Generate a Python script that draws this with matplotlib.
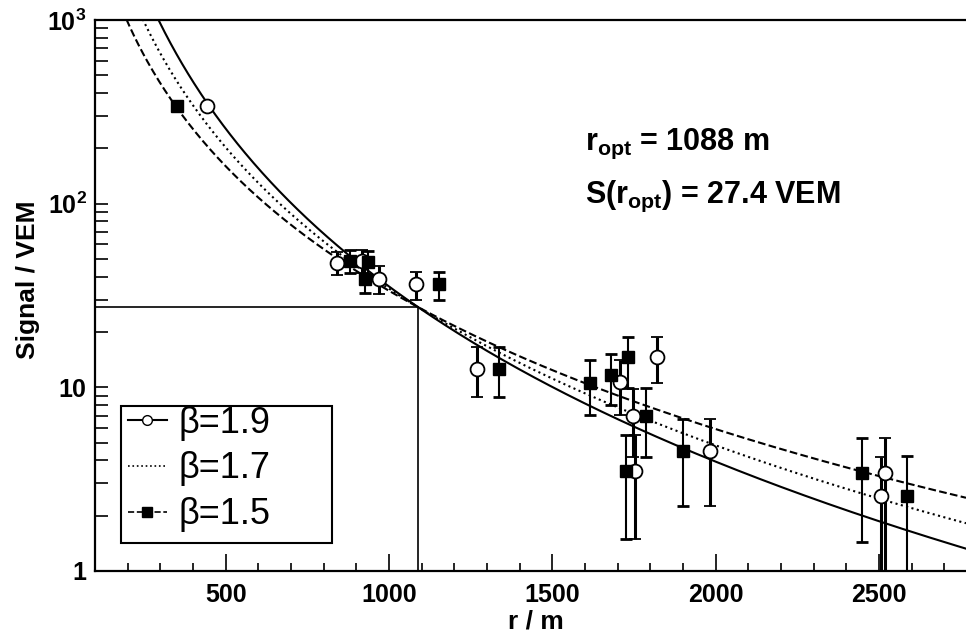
#!/usr/bin/env python3
# lateral distribution of the signal, fits with three beta values

import numpy as np
import matplotlib
matplotlib.use("Agg")
import matplotlib.pyplot as plt
from matplotlib.lines import Line2D
from matplotlib.patches import Rectangle
from matplotlib.ticker import FixedLocator, FixedFormatter, MultipleLocator

plt.rcParams['font.family'] = ['Liberation Sans', 'DejaVu Sans']
plt.rcParams['mathtext.fontset'] = 'custom'
plt.rcParams['mathtext.rm'] = 'Liberation Sans'
plt.rcParams['mathtext.bf'] = 'Liberation Sans:bold'

# fit parameters
r_opt = 1088.0
s_opt = 27.4
betas = [1.9, 1.7, 1.5]

# beta = 1.9 (open circles): r, signal, lower, upper
r_19 = [444, 841, 918, 968, 1084, 1269, 1708, 1747, 1753, 1820, 1983, 2507, 2517]
s_19 = [340, 47.7, 48.7, 38.7, 36.3, 12.6, 10.7, 7.0, 3.5, 14.6, 4.5, 2.55, 3.4]
lo_19 = [340, 41.0, 42.0, 32.4, 29.8, 8.9, 7.1, 4.2, 1.5, 10.6, 2.26, 0.5, 0.5]
hi_19 = [340, 54.5, 56.0, 45.5, 42.4, 16.6, 14.1, 9.8, 5.5, 18.7, 6.7, 4.2, 5.3]

# beta = 1.5 (filled squares)
r_15 = [351, 879, 925, 935, 1154, 1336, 1616, 1679, 1725, 1732, 1787, 1899, 2447, 2584]
s_15 = [340, 48.7, 39.0, 47.9, 36.3, 12.6, 10.6, 11.6, 3.5, 14.6, 7.0, 4.5, 3.4, 2.55]
lo_15 = [340, 41.8, 32.8, 41.0, 29.8, 8.9, 7.1, 8.0, 1.5, 9.9, 4.2, 2.26, 1.44, 0.5]
hi_15 = [340, 56.0, 45.5, 55.0, 42.4, 16.6, 14.1, 15.2, 5.5, 18.7, 9.9, 6.7, 5.3, 4.25]

labels = ['β=1.9', 'β=1.7', 'β=1.5']
xmin, xmax = 100, 2766


def ldf(r, beta):
    return s_opt * (r / r_opt) ** (-beta) * ((r + 700) / (r_opt + 700)) ** (-beta)


W, H = 966, 637
fig = plt.figure(figsize=(W / 100, H / 100), dpi=100)
ax = fig.add_axes([95 / W, 1 - 571 / H, 1 - 95 / W, (571 - 20) / H])
ax.set_yscale('log')
ax.set_xlim(xmin, xmax)
ax.set_ylim(1, 1000)

rr = np.linspace(xmin, xmax, 600)
styles = ['-', ':', '--']
for b, ls in zip(betas, styles):
    ax.plot(rr, ldf(rr, b), color='black', lw=1.5, ls=ls, zorder=2)

# reference lines at r_opt
ax.plot([xmin, r_opt], [s_opt, s_opt], color='black', lw=1.2, zorder=2)
ax.plot([r_opt, r_opt], [1, s_opt], color='black', lw=1.2, zorder=2)

s = np.array(s_19)
ax.errorbar(r_19, s_19, yerr=[s - np.array(lo_19), np.array(hi_19) - s],
            fmt='o', ms=10, mfc='white', mec='black', mew=1.3, ecolor='black',
            elinewidth=2.2, capsize=4, capthick=2.2, zorder=4)
s = np.array(s_15)
ax.errorbar(r_15, s_15, yerr=[s - np.array(lo_15), np.array(hi_15) - s],
            fmt='s', ms=9, mfc='black', mec='black', ecolor='black',
            elinewidth=1.5, capsize=4, capthick=2.0, zorder=4)

# axes look
ax.spines['right'].set_visible(False)
for sp in ['left', 'bottom', 'top']:
    ax.spines[sp].set_linewidth(1.6)
ax.xaxis.set_major_locator(MultipleLocator(500))
ax.xaxis.set_minor_locator(MultipleLocator(100))
ax.yaxis.set_major_locator(FixedLocator([1, 10, 100, 1000]))
ax.yaxis.set_major_formatter(FixedFormatter(['1', '10', r'$\mathbf{10^{2}}$', r'$\mathbf{10^{3}}$']))
ax.tick_params(axis='x', which='major', direction='in', length=12, width=1.2, labelsize=18, pad=9)
ax.tick_params(axis='x', which='minor', direction='in', length=6, width=1.2)
ax.tick_params(axis='y', which='both', direction='in', length=9, width=1.2, labelsize=18, pad=6)
ax.tick_params(top=False, right=False, which='both')
for lab in ax.get_xticklabels() + ax.get_yticklabels():
    lab.set_fontweight('bold')

ax.set_xlabel('r / m', fontsize=19, fontweight='bold', va='center')
ax.xaxis.set_label_coords(0.506, -0.091)
ax.set_ylabel('Signal / VEM', fontsize=19, fontweight='bold', va='center')
ax.yaxis.set_label_coords(-0.077, 0.528)

fig.text(585 / W, 1 - 150 / H, r'$\mathbf{r_{opt}}$' + ' = 1088 m', fontsize=22,
         fontweight='bold', va='baseline')
fig.text(585 / W, 1 - 203 / H, r'$\mathbf{S(r_{opt})}$' + ' = 27.4 VEM', fontsize=22,
         fontweight='bold', va='baseline')

# legend, with a separate box as the original has a wide frame
fig.add_artist(Rectangle((121 / W, 1 - 543 / H), (332 - 121) / W, (543 - 406) / H,
                         transform=fig.transFigure, fill=False, ec='black', lw=1.5))
handles = [
    Line2D([], [], color='black', ls='-', lw=1.5, marker='o', ms=7, mfc='white', mec='black'),
    Line2D([], [], color='black', ls=':', lw=1.2),
    Line2D([], [], color='black', ls='--', lw=1.2, marker='s', ms=7, mfc='black'),
]
leg = fig.legend(handles, labels, loc='upper left',
                 bbox_to_anchor=(124 / W, 1 - 402 / H), borderaxespad=0,
                 fontsize=26, frameon=False, handlelength=1.1,
                 handletextpad=0.3, labelspacing=0.3, borderpad=0.1)

fig.savefig('out.png', dpi=100)
